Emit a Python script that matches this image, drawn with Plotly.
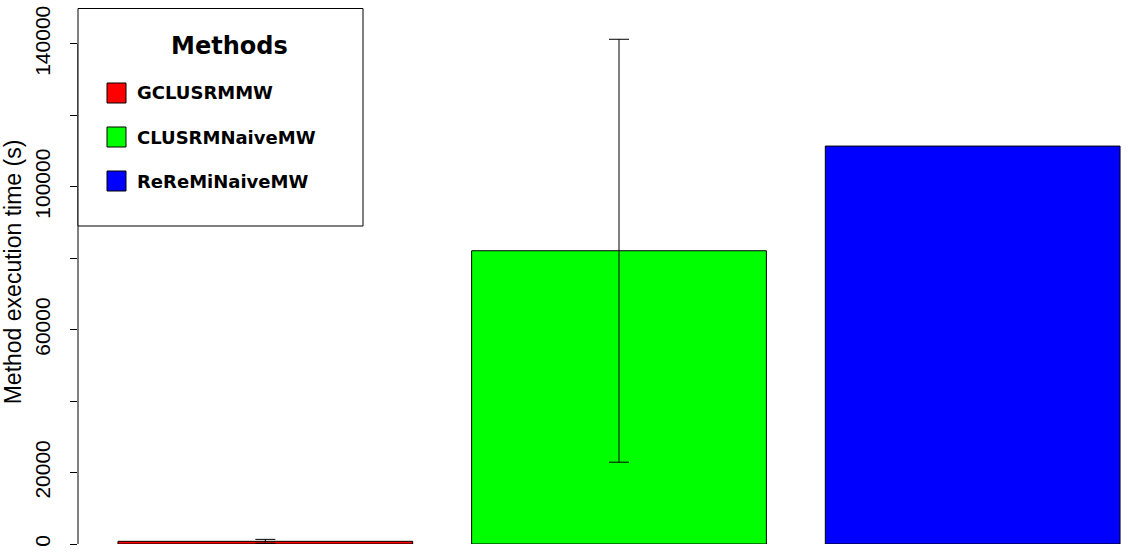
import plotly.graph_objects as go

# ---- data ----
methods = ["GCLUSRMMW", "CLUSRMNaiveMW", "ReReMiNaiveMW"]
mean_time = [750, 82100, 111400]
sd_time = [550, 59200, None]
bar_colors = ["#FF0000", "#00FF00", "#0000FF"]
tick_vals = [0, 20000, 40000, 60000, 80000, 100000, 120000, 140000]
tick_text = ["0", "20000", "", "60000", "", "100000", "", "140000"]
y_title = "Method execution time (s)"
legend_title = "Methods"

# ---- geometry (R barplot style: width 1, space 0.2) ----
x_pos = [0.7 + 1.2 * i for i in range(len(methods))]

W, H = 1128, 553
ML, MR, MT, MB = 78, 0, 0, 9
PW, PH = W - ML - MR, H - MT - MB


def px_x(px):
    return (px - ML) / PW


def px_y(py):
    return (H - MB - py) / PH


fig = go.Figure()
for xp, m, s, c, name in zip(x_pos, mean_time, sd_time, bar_colors, methods):
    err = dict(type="data", array=[s], visible=True, color="black",
               thickness=1, width=10) if s is not None else dict(visible=False)
    fig.add_trace(go.Bar(
        x=[xp], y=[m], width=1, name=name,
        marker=dict(color=c, line=dict(color="black", width=1)),
        error_y=err, showlegend=False, hoverinfo="skip",
    ))

shapes = []
annotations = []
# y axis line (only spanning the tick range, like R)
shapes.append(dict(type="line", xref="paper", yref="y", x0=0, x1=0,
                   y0=tick_vals[0], y1=tick_vals[-1],
                   line=dict(color="black", width=1)))

# legend box
shapes.append(dict(type="rect", xref="paper", yref="paper",
                   x0=px_x(78), x1=px_x(363), y0=px_y(226), y1=px_y(8.5),
                   line=dict(color="black", width=1), fillcolor="white"))
annotations.append(dict(xref="paper", yref="paper", x=px_x(229), y=px_y(46),
                        text="<b>" + legend_title + "</b>", showarrow=False,
                        xanchor="center", yanchor="middle",
                        font=dict(family="DejaVu Sans", size=24, color="black")))
for i, (name, col) in enumerate(zip(methods, bar_colors)):
    cy = 93 + 44 * i
    shapes.append(dict(type="rect", xref="paper", yref="paper",
                       x0=px_x(107), x1=px_x(126), y0=px_y(cy + 10), y1=px_y(cy - 10),
                       line=dict(color="black", width=1), fillcolor=col))
    annotations.append(dict(xref="paper", yref="paper", x=px_x(135), y=px_y(cy),
                            text="<b>" + name + "</b>", showarrow=False,
                            xanchor="left", yanchor="middle",
                            font=dict(family="DejaVu Sans", size=18, color="black")))

fig.update_layout(
    width=W, height=H, autosize=False,
    margin=dict(l=ML, r=MR, t=MT, b=MB, pad=0, autoexpand=False),
    paper_bgcolor="white", plot_bgcolor="white",
    shapes=shapes, annotations=annotations, barmode="overlay",
    xaxis=dict(visible=False, range=[0.0644, 3.627], fixedrange=True,
               automargin=False),
    yaxis=dict(range=[0, (H - MB) / 3.572 * 1000], showgrid=False, zeroline=False,
               showline=False, ticks="outside", ticklen=7, tickwidth=1,
               tickcolor="black", tickvals=tick_vals, ticktext=tick_text,
               tickangle=-90, ticklabelstandoff=12, automargin=False,
               ticklabeloverflow="allow", fixedrange=True,
               tickfont=dict(family="Liberation Sans", size=21, color="black"),
               title=dict(text=y_title, standoff=35,
                          font=dict(family="Liberation Sans", size=23, color="black"))),
    font=dict(family="Liberation Sans", color="black"),
)

fig.write_html("out.html", config={"displayModeBar": False},
               post_script="document.body.style.margin='0';")
